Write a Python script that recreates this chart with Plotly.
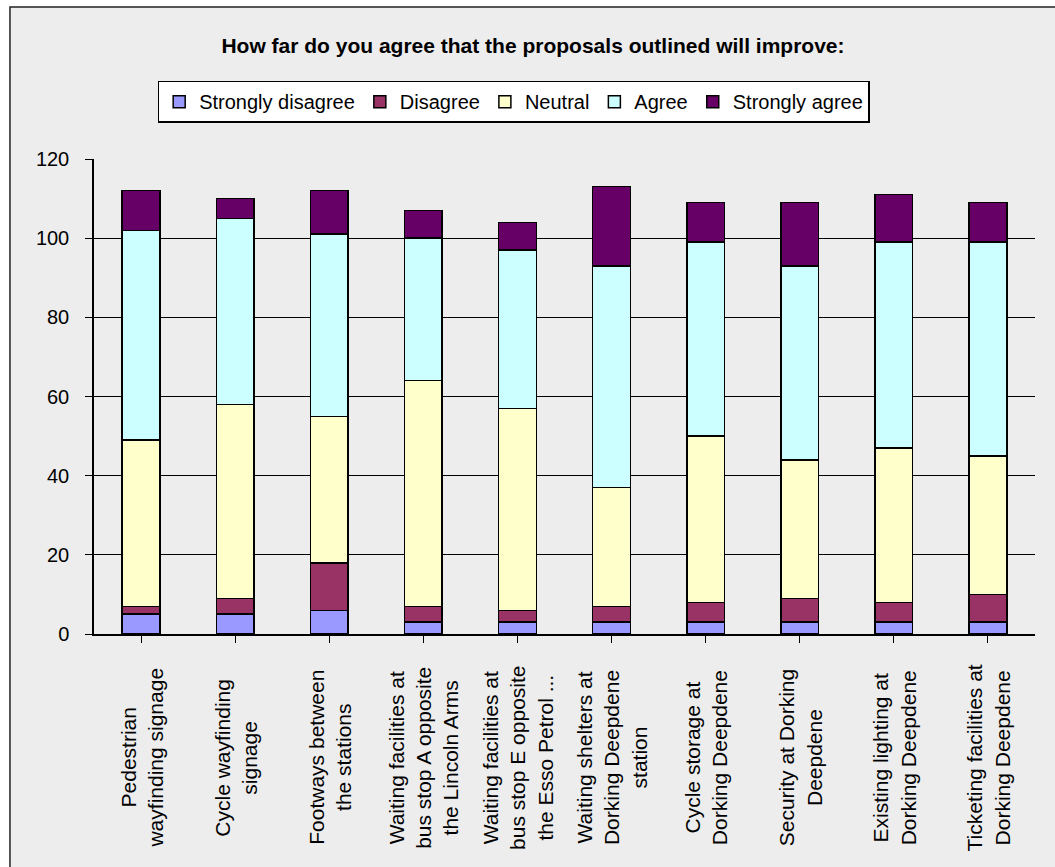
import plotly.graph_objects as go

# Survey responses per proposal (counts per answer, stacked bottom to top)
categories = [
    "Pedestrian<br>wayfinding signage",
    "Cycle wayfinding<br>signage",
    "Footways between<br>the stations",
    "Waiting facilities at<br>bus stop A opposite<br>the Lincoln Arms",
    "Waiting facilities at<br>bus stop E opposite<br>the Esso Petrol ...",
    "Waiting shelters at<br>Dorking Deepdene<br>station",
    "Cycle storage at<br>Dorking Deepdene",
    "Security at Dorking<br>Deepdene",
    "Existing lighting at<br>Dorking Deepdene",
    "Ticketing facilities at<br>Dorking Deepdene",
]
strongly_disagree = [5, 5, 6, 3, 3, 3, 3, 3, 3, 3]
disagree = [2, 4, 12, 4, 3, 4, 5, 6, 5, 7]
neutral = [42, 49, 37, 57, 51, 30, 42, 35, 39, 35]
agree = [53, 47, 46, 36, 40, 56, 49, 49, 52, 54]
strongly_agree = [10, 5, 11, 7, 7, 20, 10, 16, 12, 10]

series = [
    ("Strongly disagree", strongly_disagree, "#9999FF"),
    ("Disagree", disagree, "#993366"),
    ("Neutral", neutral, "#FFFFCC"),
    ("Agree", agree, "#CCFFFF"),
    ("Strongly agree", strongly_agree, "#660066"),
]

x_idx = list(range(len(categories)))
FONT = "Liberation Sans, Arial, sans-serif"
BG = "#EDEDED"

fig = go.Figure()
for name, vals, color in series:
    fig.add_trace(go.Bar(
        x=x_idx, y=vals, name=name, width=0.4,
        marker=dict(color=color, line=dict(color="black", width=1.5)),
    ))

# Category labels, rotated and centre-aligned below each bar
for i, lab in enumerate(categories):
    fig.add_annotation(
        x=i, xref="x", y=-0.26, yref="paper",
        text=lab, textangle=-90, showarrow=False,
        align="center", xanchor="center", yanchor="middle",
        font=dict(family=FONT, size=21, color="black"),
    )

# Chart-area panel with its border
fig.add_shape(
    type="rect", xref="paper", yref="paper",
    x0=-0.0893, x1=1.03, y0=-0.505, y1=1.32,
    fillcolor=BG, line=dict(color="#222222", width=1.5), layer="below",
)

fig.update_layout(
    width=1055, height=867,
    margin=dict(l=94, r=20, t=159, b=233),
    paper_bgcolor="white", plot_bgcolor="rgba(0,0,0,0)",
    barmode="stack",
    font=dict(family=FONT, color="black"),
    title=dict(
        text="<b>How far do you agree that the proposals outlined will improve:</b>",
        x=0.4665, xref="paper", xanchor="center",
        y=1 - 46 / 867, yref="container", yanchor="middle",
        font=dict(family=FONT, size=21, color="black"),
    ),
    legend=dict(
        orientation="h", x=0.446, xanchor="center", y=1.165, yanchor="top",
        bgcolor="white", bordercolor="black", borderwidth=1.5,
        font=dict(family=FONT, size=20, color="black"),
        traceorder="normal", itemwidth=30,
    ),
    showlegend=True,
)
fig.update_xaxes(
    range=[-0.5, len(categories) - 0.5], tickmode="array", tickvals=x_idx,
    showticklabels=False, tickson="boundaries", ticks="outside", ticklen=7,
    tickcolor="black", showline=True, linecolor="black", linewidth=1.5,
    showgrid=False, zeroline=False,
)
fig.update_yaxes(
    range=[0, 120], dtick=20, showgrid=True, gridcolor="black", gridwidth=1,
    showline=True, linecolor="black", linewidth=1.5, ticks="outside", ticklen=7,
    tickcolor="black", zeroline=False, ticklabelstandoff=12,
    tickfont=dict(family=FONT, size=20, color="black"),
)

fig.write_html("out.html")
